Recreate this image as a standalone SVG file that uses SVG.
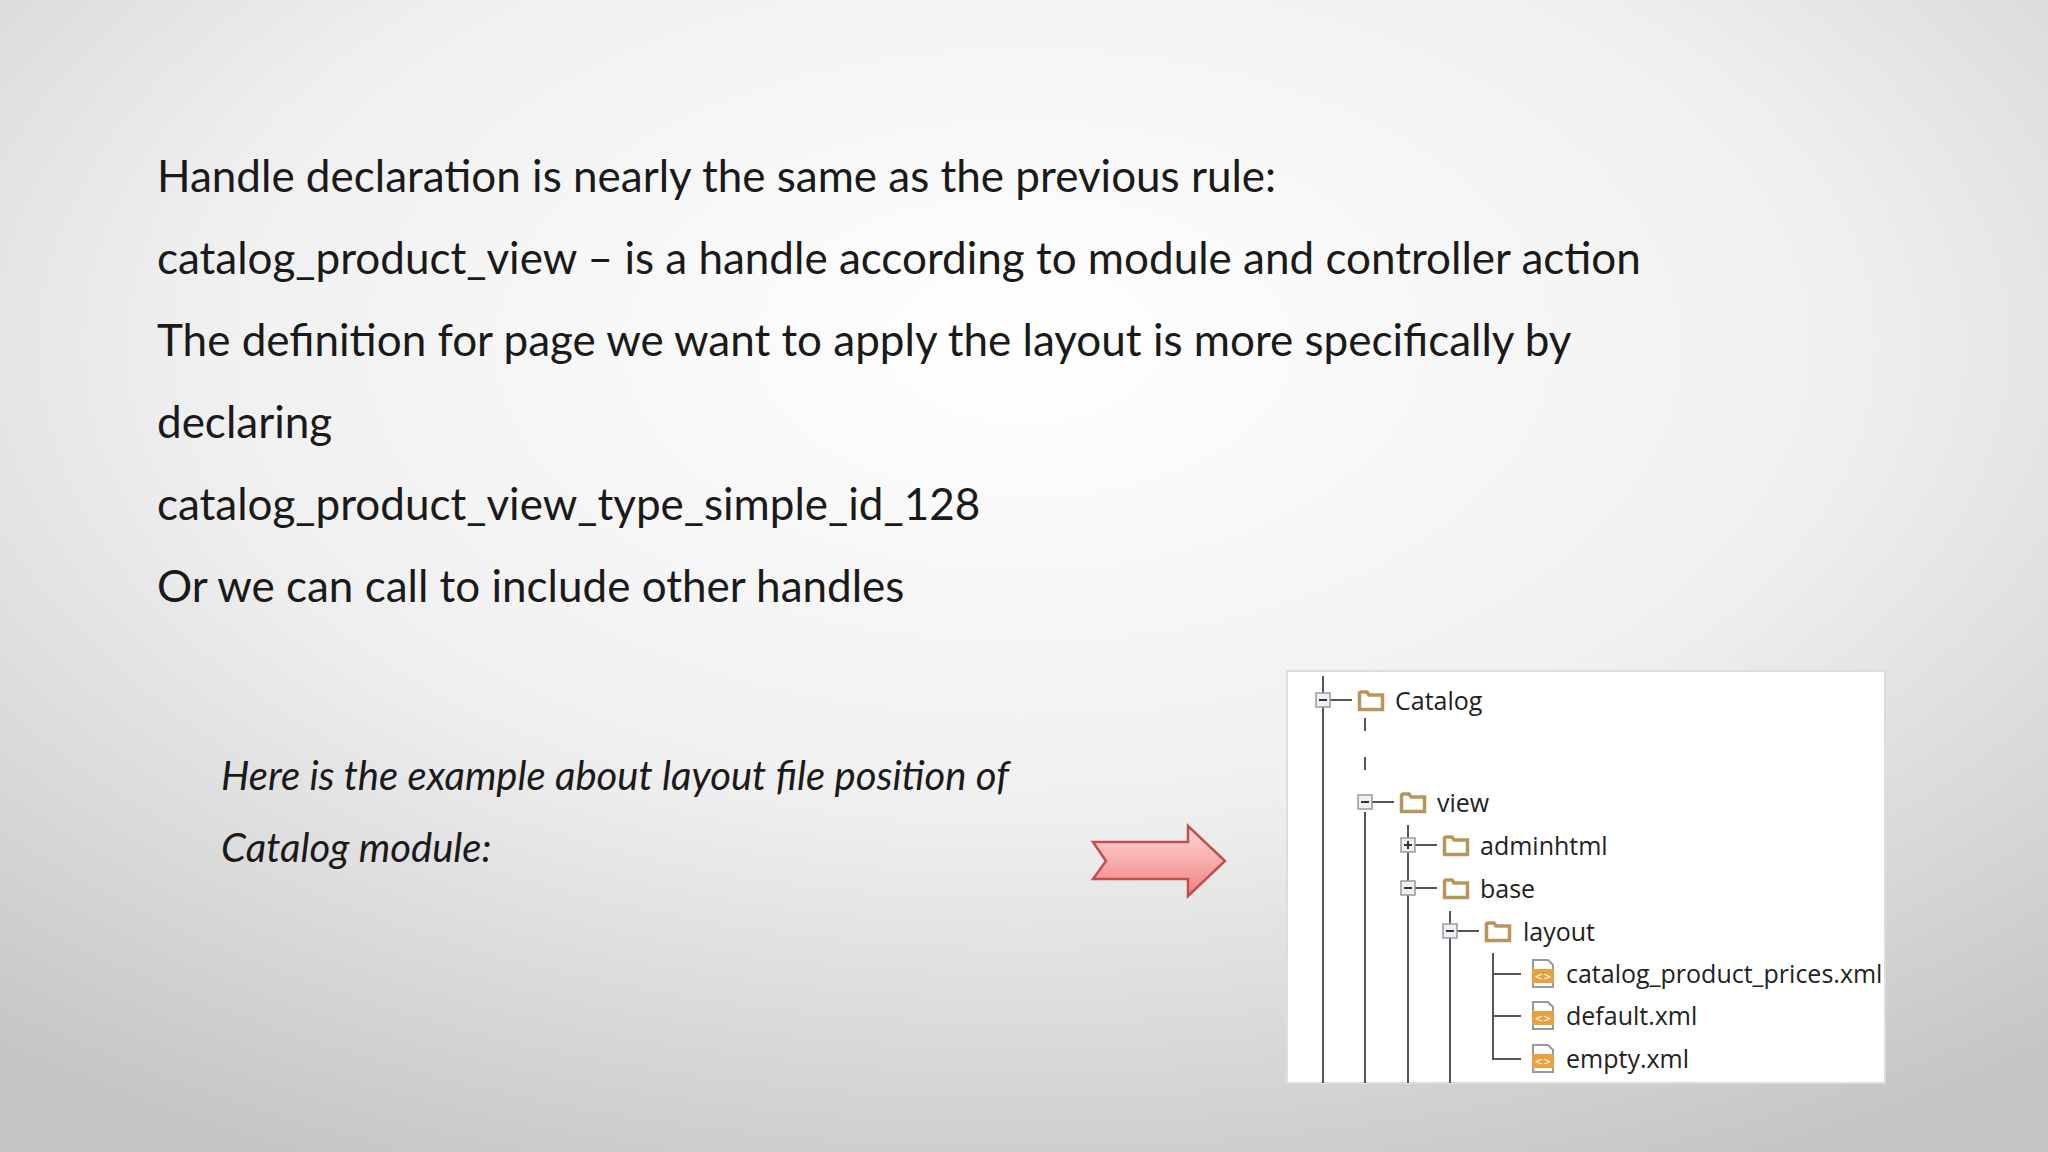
<svg xmlns="http://www.w3.org/2000/svg" width="2048" height="1152" viewBox="0 0 2048 1152">
<defs>
<radialGradient id="bg" cx="0.5" cy="0.3" r="0.8">
<stop offset="0" stop-color="#ffffff"/><stop offset="0.5" stop-color="#f0f0f0"/><stop offset="1" stop-color="#c4c4c4"/>
</radialGradient>
<linearGradient id="ar" x1="0" y1="0" x2="0" y2="1">
<stop offset="0" stop-color="#ffd9d9"/><stop offset="1" stop-color="#f08080"/>
</linearGradient>
<symbol id="fold" viewBox="0 0 26 22" overflow="visible"><path d="M1.5 4 V20.5 H24.5 V6 H11 L9 3 H3 Z" fill="#fff" stroke="#b8955a" stroke-width="3.5"/></symbol>
<symbol id="xml" viewBox="0 0 26 30" overflow="visible"><path d="M3 1 H18 L23 6 V28 H3 Z" fill="#fff" stroke="#999" stroke-width="2"/><rect x="2" y="10" width="22" height="14" fill="#e8a040"/><text x="13" y="21" font-family="DejaVu Sans" font-size="10" fill="#fff" text-anchor="middle">&lt;&gt;</text></symbol>
</defs>
<style>
.t{font-family:Lato,"Open Sans",sans-serif;font-size:44px;fill:#1a1a1a}
.i{font-family:Lato,"Open Sans",sans-serif;font-size:40px;font-style:italic;fill:#1a1a1a}
.n{font-family:"Open Sans","DejaVu Sans",sans-serif;font-size:25px;fill:#222}
.ln{stroke:#555;stroke-width:2;fill:none}
.bx{fill:#eef0f4;stroke:#999;stroke-width:1.5}
</style>
<rect width="2048" height="1152" fill="url(#bg)"/>
<g id="text">
<text class="t" x="157" y="192">Handle declaration is nearly the same as the previous rule:</text>
<text class="t" x="157" y="274">catalog_product_view – is a handle according to module and controller action</text>
<text class="t" x="157" y="356">The definition for page we want to apply the layout is more specifically by</text>
<text class="t" x="157" y="438">declaring</text>
<text class="t" x="157" y="520">catalog_product_view_type_simple_id_128</text>
<text class="t" x="157" y="602">Or we can call to include other handles</text>
<text class="i" x="221" y="790">Here is the example about layout file position of</text>
<text class="i" x="221" y="862">Catalog module:</text>
</g>
<g id="arrow">
<path d="M1093 842 H1188 V826 L1225 861 L1188 896 V879 H1093 L1106 861 Z" fill="url(#ar)" stroke="#c0504d" stroke-width="2.5"/>
</g>
<g id="panel">
<rect x="1287" y="671" width="598" height="412" fill="#fff" stroke="#ddd" stroke-width="2"/>
</g>
<g id="connectors">
<path class="ln" d="M1323 676 V1083 M1365 812 V1083 M1408 825 V1083 M1450 911 V1083"/>
<path class="ln" d="M1365 718 V731 M1365 757 V770"/>
<path class="ln" d="M1323 700 H1352 M1365 802 H1394 M1408 845 H1437 M1408 888 H1437 M1450 931 H1479"/>
<path class="ln" d="M1493 953 V1059 H1521 M1493 974 H1521 M1493 1016 H1521"/>
</g>
<g id="catalog"><rect class="bx" x="1316" y="693" width="14" height="14"/><path d="M1319 700 H1327" stroke="#334" stroke-width="2"/><use href="#fold" x="1358" y="689" width="26" height="22"/><text class="n" x="1395" y="710">Catalog</text></g>
<g id="view"><rect class="bx" x="1358" y="795" width="14" height="14"/><path d="M1361 802 H1369" stroke="#334" stroke-width="2"/><use href="#fold" x="1400" y="791" width="26" height="22"/><text class="n" x="1437" y="812">view</text></g>
<g id="adminhtml"><rect class="bx" x="1401" y="838" width="14" height="14"/><path d="M1404 845 H1412 M1408 841 V849" stroke="#334" stroke-width="2"/><use href="#fold" x="1443" y="834" width="26" height="22"/><text class="n" x="1480" y="855">adminhtml</text></g>
<g id="base"><rect class="bx" x="1401" y="881" width="14" height="14"/><path d="M1404 888 H1412" stroke="#334" stroke-width="2"/><use href="#fold" x="1443" y="877" width="26" height="22"/><text class="n" x="1480" y="898">base</text></g>
<g id="layout"><rect class="bx" x="1443" y="924" width="14" height="14"/><path d="M1446 931 H1454" stroke="#334" stroke-width="2"/><use href="#fold" x="1485" y="920" width="26" height="22"/><text class="n" x="1523" y="941">layout</text></g>
<g id="prices"><use href="#xml" x="1530" y="959" width="26" height="30"/><text class="n" x="1566" y="983">catalog_product_prices.xml</text></g>
<g id="default"><use href="#xml" x="1530" y="1001" width="26" height="30"/><text class="n" x="1566" y="1025">default.xml</text></g>
<g id="empty"><use href="#xml" x="1530" y="1044" width="26" height="30"/><text class="n" x="1566" y="1068">empty.xml</text></g>
</svg>
